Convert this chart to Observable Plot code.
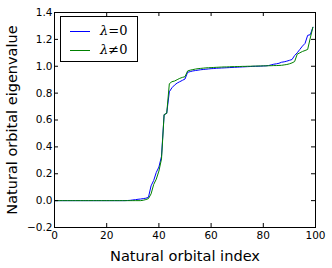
<!DOCTYPE html>
<html><head><meta charset="utf-8">
<script src="https://cdn.jsdelivr.net/npm/d3@7"></script>
<script src="https://cdn.jsdelivr.net/npm/@observablehq/plot@0.6"></script>
<style>
body{margin:0;background:#fff;}
#wrap{position:relative;width:332px;height:268px;overflow:hidden;}
#legend{position:absolute;left:60px;top:16px;width:78px;height:46px;border:1px solid #000;background:#fff;box-sizing:border-box;font-family:"DejaVu Serif";font-size:13px;}
.row{position:absolute;left:0;height:16px;width:100%;}
.sw{position:absolute;left:9px;width:20px;height:0;border-top:1px solid;}
.lab{position:absolute;left:39px;top:-8px;line-height:16px;white-space:nowrap;}
</style></head>
<body><div id="wrap"></div>
<script>
const seriesNames = ["λ=0", "λ≠0"];
const seriesColors = ["#0000ff", "#008000"];
const xTicks = [0, 20, 40, 60, 80, 100];
const yTicks = [-0.2, 0.0, 0.2, 0.4, 0.6, 0.8, 1.0, 1.2, 1.4];
const blue = [
  0,0,0,0,0,0,0,0,0,0,
  0,0,0,0,0,0,0,0,0,0,
  0,0,0,0,0,0,0,0,0.001,0.002,
  0.005,0.007,0.010,0.012,0.015,0.018,0.025,0.110,0.150,0.210,
  0.250,0.330,0.640,0.650,0.810,0.840,0.860,0.875,0.885,0.895,
  0.905,0.955,0.960,0.965,0.968,0.971,0.974,0.976,0.978,0.980,
  0.982,0.983,0.985,0.986,0.987,0.988,0.989,0.990,0.991,0.992,
  0.993,0.994,0.995,0.996,0.997,0.998,0.999,1.000,1.000,1.001,
  1.002,1.003,1.005,1.010,1.015,1.018,1.022,1.030,1.033,1.038,
  1.044,1.050,1.080,1.100,1.125,1.150,1.170,1.230,1.235,1.290
];
const green = [
  0,0,0,0,0,0,0,0,0,0,
  0,0,0,0,0,0,0,0,0,0,
  0,0,0,0,0,0,0,0,0,0,
  0,0,0,0,0.003,0.008,0.015,0.050,0.120,0.160,
  0.220,0.310,0.640,0.650,0.870,0.885,0.890,0.900,0.910,0.917,
  0.922,0.965,0.971,0.975,0.979,0.982,0.984,0.986,0.988,0.989,
  0.990,0.991,0.992,0.993,0.994,0.995,0.995,0.996,0.997,0.997,
  0.998,0.998,0.999,0.999,1.000,1.000,1.001,1.001,1.002,1.002,
  1.003,1.003,1.004,1.004,1.005,1.005,1.006,1.007,1.010,1.013,
  1.018,1.025,1.035,1.090,1.100,1.110,1.117,1.125,1.210,1.290
];
const blueData = blue.map((v, i) => ({i, v}));
const greenData = green.map((v, i) => ({i, v}));
const W = 332, H = 268, mL = 54, mR = 17, mT = 12, mB = 41;
const fw = W - mL - mR, fh = H - mT - mB, tl = 4;
const chart = Plot.plot({
  width: W, height: H, marginLeft: mL, marginRight: mR, marginTop: mT, marginBottom: mB,
  style: {fontFamily: "DejaVu Sans", fontSize: "10.5px", color: "#000", background: "#fff"},
  x: {domain: [0, 100]},
  y: {domain: [-0.2, 1.4]},
  marks: [
    Plot.line(blueData, {x: "i", y: "v", stroke: seriesColors[0], strokeWidth: 1}),
    Plot.line(greenData, {x: "i", y: "v", stroke: seriesColors[1], strokeWidth: 1}),
    Plot.frame({stroke: "#000", strokeWidth: 1}),
    Plot.tickX(xTicks, {x: d => d, insetTop: fh - tl, stroke: "#000"}),
    Plot.tickX(xTicks, {x: d => d, insetBottom: fh - tl, stroke: "#000"}),
    Plot.tickY(yTicks, {y: d => d, insetRight: fw - tl, stroke: "#000"}),
    Plot.tickY(yTicks, {y: d => d, insetLeft: fw - tl, stroke: "#000"}),
    Plot.axisX(xTicks, {tickSize: 0, tickPadding: 4, label: null, fontSize: 10.5}),
    Plot.axisY(yTicks, {tickSize: 0, tickPadding: 2, tickFormat: d3.format(".1f"), label: null, fontSize: 10.5}),
    Plot.axisX([], {tickSize: 0, label: "Natural orbital index", labelAnchor: "center", labelArrow: "none", labelOffset: 33, fontSize: 14.6}),
    Plot.axisY([], {tickSize: 0, label: "Natural orbital eigenvalue", labelAnchor: "center", labelArrow: "none", labelOffset: 48, fontSize: 14.5})
  ]
});
const wrap = document.getElementById("wrap");
wrap.appendChild(chart);
const leg = document.createElement("div");
leg.id = "legend";
const rowTops = [14, 33];
seriesNames.forEach((name, k) => {
  const row = document.createElement("div");
  row.className = "row";
  row.style.top = rowTops[k] + "px";
  const sw = document.createElement("div");
  sw.className = "sw";
  sw.style.borderTopColor = seriesColors[k];
  const lab = document.createElement("div");
  lab.className = "lab";
  lab.innerHTML = "<i>" + name[0] + "</i>" + name.slice(1);
  row.appendChild(sw); row.appendChild(lab);
  leg.appendChild(row);
});
wrap.appendChild(leg);
</script>
</body></html>
